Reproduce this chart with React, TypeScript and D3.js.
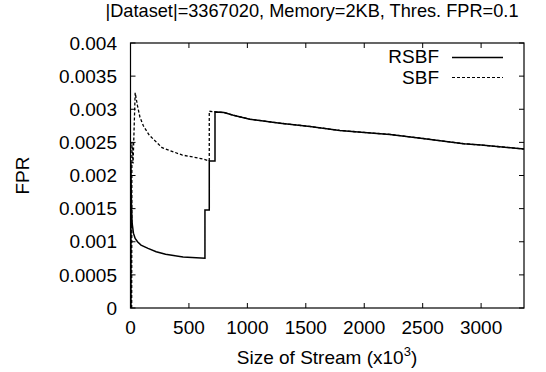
import * as d3 from "d3";
import React from "react";

// stream size in thousands, FPR values
const rsbfX = [4, 4, 6, 9, 14, 25, 40, 60, 90, 150, 220, 300, 450, 637, 637, 674, 674, 723, 723, 800, 880, 1020, 1280, 1535, 1790, 2000, 2220, 2500, 2850, 3000, 3367];
const rsbfY = [0, 0.0022, 0.0018, 0.0015, 0.00128, 0.00113, 0.00105, 0.001, 0.00095, 0.0009, 0.00085, 0.00081, 0.00077, 0.00075, 0.00148, 0.00148, 0.00222, 0.00222, 0.00296, 0.00295, 0.00291, 0.00285, 0.00279, 0.00274, 0.00268, 0.00265, 0.00262, 0.00256, 0.00248, 0.00246, 0.0024];

const sbfX = [10, 12, 22, 40, 60, 81, 110, 160, 270, 440, 620, 674, 674, 723, 800, 880, 1020, 1280, 1535, 1790, 2000, 2220, 2500, 2850, 3000, 3367];
const sbfY = [0, 0.0025, 0.00218, 0.00325, 0.00305, 0.00288, 0.00275, 0.00261, 0.00242, 0.00231, 0.00225, 0.00222, 0.00297, 0.00296, 0.00295, 0.00291, 0.00285, 0.00279, 0.00274, 0.00268, 0.00265, 0.00262, 0.00256, 0.00248, 0.00246, 0.0024];

const xTicks = [0, 500, 1000, 1500, 2000, 2500, 3000];
const yTicks = [0, 0.0005, 0.001, 0.0015, 0.002, 0.0025, 0.003, 0.0035, 0.004];
const yTickLabels = ["0", "0.0005", "0.001", "0.0015", "0.002", "0.0025", "0.003", "0.0035", "0.004"];

const seriesNames = ["RSBF", "SBF"];
const title = "|Dataset|=3367020, Memory=2KB, Thres. FPR=0.1";

const App = () => {
  const width = 546;
  const height = 372;
  const margin = { top: 43, right: 22, bottom: 64, left: 130.5 };
  const font = "'Liberation Sans', Arial, Helvetica, sans-serif";
  const fs = 19;

  const x = d3.scaleLinear().domain([0, 3367]).range([margin.left, width - margin.right]);
  const y = d3.scaleLinear().domain([0, 0.004]).range([height - margin.bottom, margin.top]);

  const line = d3
    .line<[number, number]>()
    .x((d) => x(d[0]))
    .y((d) => y(d[1]));

  const rsbf = rsbfX.map((v, i) => [v, rsbfY[i]] as [number, number]);
  const sbf = sbfX.map((v, i) => [v, sbfY[i]] as [number, number]);

  const x0 = x.range()[0];
  const x1 = x.range()[1];
  const y0 = y.range()[0];
  const y1 = y.range()[1];
  const tick = 5;

  return (
    <svg
      width={width}
      height={height}
      style={{ position: "absolute", left: 0, top: 0, background: "#fff" }}
      fontFamily={font}
      fontSize={fs}
    >
      <text x={312} y={17} textAnchor="middle" fontSize={18.2}>{title}</text>

      {/* y axis ticks + labels */}
      {yTicks.map((t, i) => (
        <g key={"y" + i}>
          <line x1={x0} x2={x0 + tick} y1={y(t)} y2={y(t)} stroke="#000" />
          <line x1={x1} x2={x1 - tick} y1={y(t)} y2={y(t)} stroke="#000" />
          <text x={117} y={y(t)} dy="0.35em" textAnchor="end">{yTickLabels[i]}</text>
        </g>
      ))}

      {/* x axis ticks + labels */}
      {xTicks.map((t) => (
        <g key={"x" + t}>
          <line x1={x(t)} x2={x(t)} y1={y0} y2={y0 - tick} stroke="#000" />
          <line x1={x(t)} x2={x(t)} y1={y1} y2={y1 + tick} stroke="#000" />
          <text x={x(t)} y={334} textAnchor="middle">{t}</text>
        </g>
      ))}

      <text transform={`translate(29, ${(y0 + y1) / 2}) rotate(-90)`} textAnchor="middle">FPR</text>
      <text x={327} y={364} textAnchor="middle">
        Size of Stream (x10<tspan dy={-8} fontSize={13}>3</tspan><tspan dy={8}>)</tspan>
      </text>

      <path d={line(sbf) || ""} fill="none" stroke="#000" strokeWidth={1.3} strokeDasharray="3,2" />
      <path d={line(rsbf) || ""} fill="none" stroke="#000" strokeWidth={1.5} />

      {/* legend */}
      <text x={439} y={63} textAnchor="end">{seriesNames[0]}</text>
      <line x1={452} x2={503} y1={57.5} y2={57.5} stroke="#000" strokeWidth={1.3} />
      <text x={439} y={84} textAnchor="end">{seriesNames[1]}</text>
      <line x1={452} x2={503} y1={77.5} y2={77.5} stroke="#000" strokeWidth={1.1} strokeDasharray="3,2" />

      <rect x={x0} y={y1} width={x1 - x0} height={y0 - y1} fill="none" stroke="#000" strokeWidth={1.2} />
    </svg>
  );
};

export default App;
